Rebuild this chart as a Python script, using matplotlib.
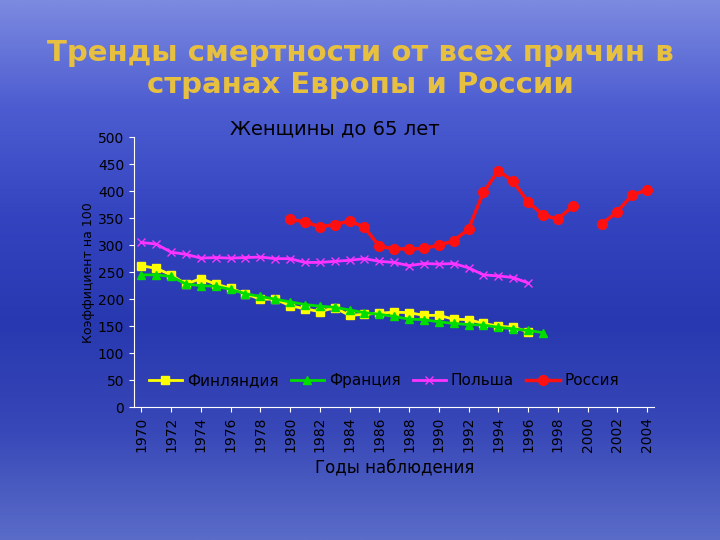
import numpy as np
import matplotlib
matplotlib.use("Agg")
import matplotlib.pyplot as plt
from matplotlib.colors import LinearSegmentedColormap

years = list(range(1970, 2005))
finland = [262, 257, 245, 228, 238, 228, 220, 210, 200, 200, 188, 182, 177, 184, 170,
           172, 174, 176, 175, 170, 170, 163, 162, 155, 150, 148, 140]
france = [245, 245, 242, 228, 225, 224, 218, 210, 205, 200, 195, 190, 187, 185, 180,
          175, 172, 168, 163, 162, 158, 155, 153, 152, 148, 145, 142, 138]
poland = [305, 302, 287, 283, 276, 277, 276, 277, 278, 275, 275, 268, 268, 270, 272,
          275, 270, 268, 262, 266, 265, 266, 258, 245, 243, 240, 230]
russia_years = list(range(1980, 2005))
russia = [348, 343, 334, 338, 345, 333, 298, 293, 293, 294, 300, 308, 330, 398, 438,
          418, 380, 356, 348, 372, np.nan, 340, 362, 393, 402]

fig = plt.figure(figsize=(7.2, 5.4), dpi=100)
bg = fig.add_axes([0, 0, 1, 1])
grad = np.linspace(0, 1, 256).reshape(-1, 1)
cmap = LinearSegmentedColormap.from_list(
    "bg", ["#7c8ae0", "#4c5cd0", "#3444c0", "#2838b0", "#3848b8", "#5a6cc8"])
bg.imshow(grad, aspect="auto", cmap=cmap, extent=[0, 1, 0, 1])
bg.axis("off")

fig.text(0.5, 0.872, "Тренды смертности от всех причин в\nстранах Европы и России",
         ha="center", va="center", fontsize=21, fontweight="bold", color="#e8c040",
         linespacing=1.15)

ax = fig.add_axes([0.186, 0.246, 0.723, 0.5])
ax.patch.set_alpha(0)
ax.plot(years[:len(finland)], finland, "-s", color="#ffff00", ms=6, lw=2, label="Финляндия")
ax.plot(years[:len(france)], france, "-^", color="#00dd00", ms=6, lw=2, label="Франция")
ax.plot(years[:len(poland)], poland, "-x", color="#ff33ff", ms=6, lw=2, label="Польша")
ax.plot(russia_years, russia, "-o", color="#ff1010", ms=7, lw=2.5, label="Россия")

ax.set_xlim(1969.5, 2004.5)
ax.set_ylim(0, 500)
ax.set_xticks(range(1970, 2005, 2))
ax.set_xticklabels([str(y) for y in range(1970, 2005, 2)], rotation=90)
ax.set_yticks(range(0, 501, 50))
ax.tick_params(colors="white", labelsize=10, labelcolor="black")
for s in ["top", "right"]:
    ax.spines[s].set_visible(False)
for s in ["left", "bottom"]:
    ax.spines[s].set_color("white")
ax.set_ylabel("Коэффициент на 100", fontsize=9, labelpad=2)
ax.set_xlabel("Годы наблюдения", fontsize=12)
fig.text(0.465, 0.762, "Женщины до 65 лет", ha="center", va="center", fontsize=14)
ax.legend(loc="lower center", ncol=4, frameon=False, fontsize=11,
          bbox_to_anchor=(0.48, 0.02), handlelength=2.2, columnspacing=0.8,
          handletextpad=0.3)

fig.savefig("out.png", dpi=100)
